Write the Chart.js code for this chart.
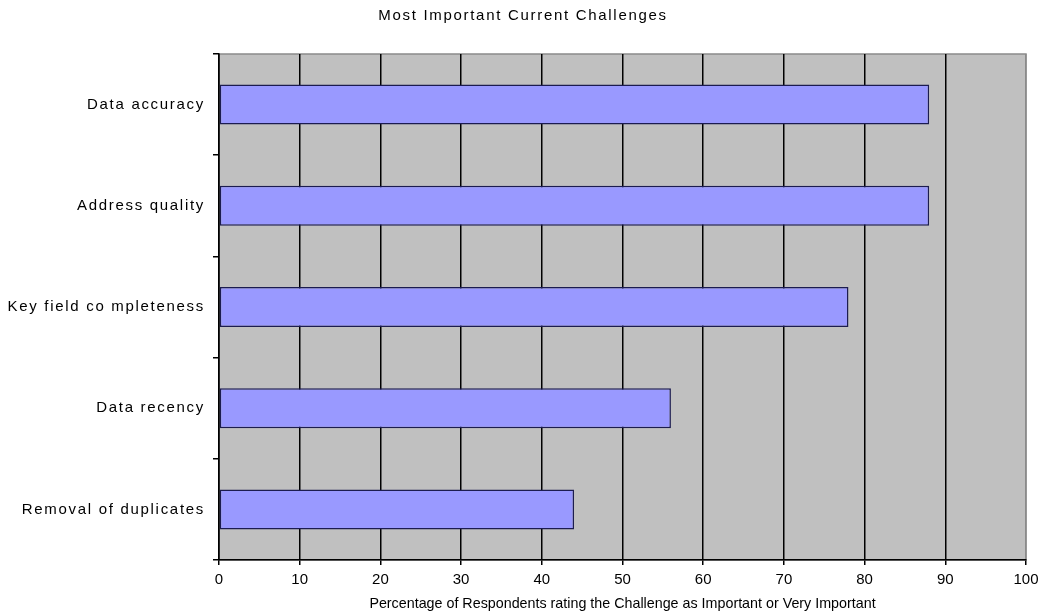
<!DOCTYPE html>
<html>
<head>
<meta charset="utf-8">
<title>Most Important Current Challenges</title>
<script src="https://cdn.jsdelivr.net/npm/chart.js@4/dist/chart.umd.min.js"></script>
<style>
  html, body { margin: 0; padding: 0; background: #ffffff; }
  canvas { display: block; }
</style>
</head>
<body>
<canvas id="chart" width="1038" height="615"></canvas>
<script>
// Challenges and the share of respondents rating each as important
const chartTitle = 'Most Important Current Challenges';
const categories = [
  'Data accuracy',
  'Address quality',
  'Key field co mpleteness',
  'Data recency',
  'Removal of duplicates'
];
const percentages = [88, 88, 78, 56, 44];
const xAxisTitle = 'Percentage of Respondents rating the Challenge as Important or Very Important';
const xTickValues = [0, 10, 20, 30, 40, 50, 60, 70, 80, 90, 100];

const PLOT_BG = '#c0c0c0';
const BAR_FILL = '#9999ff';
const BAR_EDGE = '#1c1c50';

// Grey plot background and frame, drawn beneath the grid and bars
const plotBackground = {
  id: 'plotBackground',
  beforeDraw(chart) {
    const { ctx, chartArea: a } = chart;
    ctx.save();
    ctx.fillStyle = PLOT_BG;
    ctx.fillRect(a.left, a.top, a.right - a.left, a.bottom - a.top);
    ctx.strokeStyle = '#8a8a8a';
    ctx.lineWidth = 1.5;
    ctx.strokeRect(a.left, a.top, a.right - a.left, a.bottom - a.top);
    ctx.restore();
    // wider letter spacing for the category labels
    const y = chart.scales.y;
    if (!y._spaced) {
      const orig = y.drawLabels.bind(y);
      y.drawLabels = function (area) {
        this.ctx.save();
        this.ctx.letterSpacing = '1.7px';
        orig(area);
        this.ctx.restore();
      };
      y._spaced = true;
    }
  }
};

// Chart heading
const heading = {
  id: 'heading',
  afterDraw(chart) {
    const { ctx } = chart;
    ctx.save();
    ctx.letterSpacing = '1.7px';
    ctx.font = '15px "Liberation Sans", Arial, sans-serif';
    ctx.fillStyle = '#000';
    ctx.textAlign = 'center';
    ctx.textBaseline = 'middle';
    ctx.fillText(chartTitle, 523, 15.5);
    ctx.restore();
  }
};

new Chart(document.getElementById('chart'), {
  type: 'bar',
  data: {
    labels: categories,
    datasets: [{
      data: percentages,
      backgroundColor: BAR_FILL,
      borderColor: BAR_EDGE,
      borderWidth: 1.5,
      borderSkipped: false,
      categoryPercentage: 1,
      barPercentage: 0.395
    }]
  },
  options: {
    indexAxis: 'y',
    responsive: false,
    animation: false,
    layout: { padding: { top: 54, right: 12, left: 0, bottom: 0 } },
    plugins: {
      legend: { display: false },
      tooltip: { enabled: false },
      title: { display: false }
    },
    scales: {
      x: {
        min: 0,
        max: 100,
        afterFit(scale) {
          scale.height = 55;
          scale.paddingLeft = 0;
          scale.paddingRight = 0;
        },
        afterBuildTicks(scale) { scale.ticks = xTickValues.map(v => ({ value: v })); },
        grid: {
          color: c => (c.tick && c.tick.value === 100) ? '#8a8a8a' : '#000000',
          lineWidth: 1.5,
          drawTicks: true,
          tickLength: 5,
          tickColor: '#000000',
          tickWidth: 1.5
        },
        border: { display: true, color: '#000000', width: 1.5 },
        ticks: {
          color: '#000000',
          padding: 6,
          maxRotation: 0,
          autoSkip: false,
          font: { family: '"Liberation Sans", Arial, sans-serif', size: 15 }
        },
        title: {
          display: true,
          text: xAxisTitle,
          color: '#000000',
          padding: { top: 0, bottom: 2 },
          font: { family: '"Liberation Sans", Arial, sans-serif', size: 14.3 }
        }
      },
      y: {
        afterFit(scale) { scale.width = 219; },
        offset: true,
        grid: {
          offset: true,
          drawOnChartArea: false,
          drawTicks: true,
          tickLength: 6,
          color: '#000000',
          lineWidth: 1.5
        },
        border: { display: true, color: '#000000', width: 1.5 },
        ticks: {
          color: '#000000',
          padding: 8,
          autoSkip: false,
          font: { family: '"Liberation Sans", Arial, sans-serif', size: 15 }
        }
      }
    }
  },
  plugins: [plotBackground, heading]
});
</script>
</body>
</html>
